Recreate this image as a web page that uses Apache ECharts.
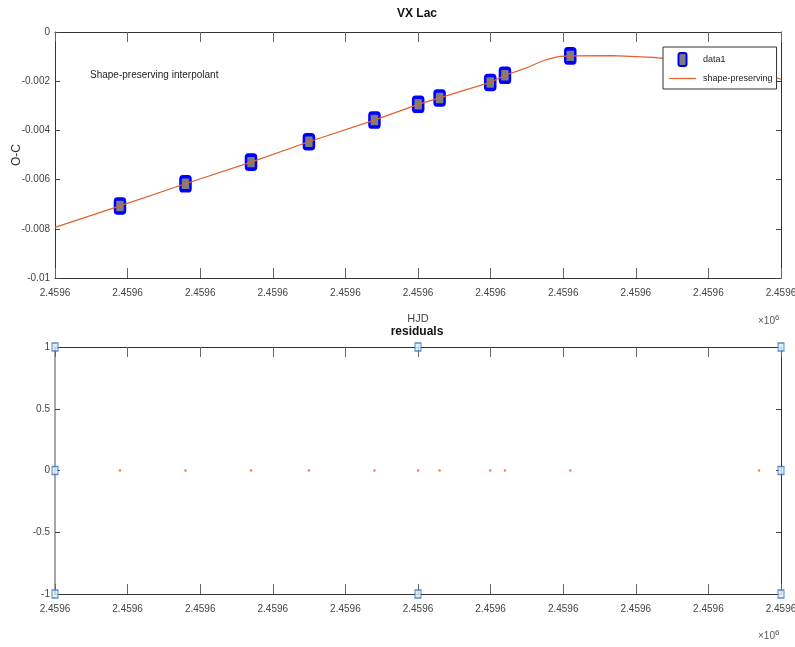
<!DOCTYPE html>
<html>
<head>
<meta charset="utf-8">
<script src="https://cdn.jsdelivr.net/npm/echarts@6/dist/echarts.min.js"></script>
<style>
  html, body { margin: 0; padding: 0; background: #fff; }
  #chart { width: 795px; height: 647px; }
</style>
</head>
<body>
<div id="chart"></div>
<script>
// HJD of the observed minima and their O-C values (days)
var hjd = [2459603.58, 2459607.19, 2459610.80, 2459613.99, 2459617.60, 2459620.01,
	2459621.19, 2459623.98, 2459624.79, 2459628.39, 2459638.79];
var oc = [-0.00707, -0.00617, -0.00529, -0.00446, -0.00358, -0.00294,
	-0.00268, -0.00205, -0.00176, -0.00097, -0.00163];

// shape-preserving interpolant
var fitX = [2459600, 2459603.58, 2459607.19, 2459610.80, 2459613.99, 2459617.60, 2459620.01,
	2459621.19, 2459623.98, 2459624.79, 2459625.50, 2459626.17, 2459626.65, 2459627.09,
	2459627.50, 2459627.82, 2459628.39, 2459630.74, 2459632.95, 2459633.50, 2459636.00,
	2459638.79, 2459639.56, 2459640];
var fitY = [-0.00794, -0.00707, -0.00617, -0.00529, -0.00446, -0.00358, -0.00294,
	-0.00268, -0.00205, -0.00176, -0.00158, -0.00140, -0.00124, -0.00112,
	-0.00104, -0.00099, -0.00097, -0.00096, -0.00103, -0.00107, -0.00130,
	-0.00163, -0.00182, -0.00192];

// residuals of the fit
var resid = [0, 0, 0, 0, 0, 0, 0, 0, 0, 0, 0];

// selection handles on the residual axes
var handleX = [2459600, 2459600, 2459600, 2459620, 2459620, 2459640, 2459640, 2459640];
var handleY = [1, 0, -1, 1, -1, 1, 0, -1];

var xMin = 2459600, xMax = 2459640, xStep = 4;

var FONT = "'Liberation Sans', Arial, sans-serif";
var markerPath = 'path://M2,0 H6 Q8,0 8,2 V11 Q8,13 6,13 H2 Q0,13 0,11 V2 Q0,0 2,0 Z';
var linePath = 'path://M0,0 H27 V1.2 H0 Z';

function zip(a, b) {
	return a.map(function (v, i) { return [v, b[i]]; });
}

function hjdLabel(v) {
	return (v / 1e6).toFixed(4);
}

function xAxisFor(grid, pos, showLabel) {
	return {
		type: 'value', gridIndex: grid, position: pos,
		min: xMin, max: xMax, interval: xStep,
		axisLine: { show: true, onZero: false, lineStyle: { color: '#333', width: 1 } },
		axisTick: { show: true, inside: true, length: 10, lineStyle: { color: '#666' } },
		axisLabel: {
			show: showLabel, formatter: hjdLabel, color: '#444',
			fontFamily: FONT, fontSize: 10, margin: 10
		},
		splitLine: { show: false }
	};
}

function yAxisFor(grid, pos, min, max, step, showLabel, fmt, lineColor, lineWidth) {
	return {
		type: 'value', gridIndex: grid, position: pos,
		min: min, max: max, interval: step,
		axisLine: { show: true, onZero: false, lineStyle: { color: lineColor || '#333', width: lineWidth || 1 } },
		axisTick: { show: true, inside: true, length: 5, lineStyle: { color: '#444' } },
		axisLabel: {
			show: showLabel, formatter: fmt, color: '#444',
			fontFamily: FONT, fontSize: 10, margin: 5
		},
		splitLine: { show: false }
	};
}

var chart = echarts.init(document.getElementById('chart'), null, { renderer: 'canvas' });

var topX = xAxisFor(0, 'bottom', true);
topX.name = 'HJD';
topX.nameLocation = 'middle';
topX.nameGap = 35;
topX.nameMoveOverlap = false;
topX.nameTextStyle = { fontFamily: FONT, fontSize: 11, color: '#444' };

var topY = yAxisFor(0, 'left', -0.01, 0, 0.002, true, function (v) {
	return v === 0 ? '0' : String(+v.toFixed(3));
});
topY.name = 'O-C';
topY.nameLocation = 'middle';
topY.nameGap = 32;
topY.nameRotate = 90;
topY.nameMoveOverlap = false;
topY.nameTextStyle = { fontFamily: FONT, fontSize: 12, color: '#333' };

var option = {
	animation: false,
	backgroundColor: '#fff',
	grid: [
		{ left: 55, top: 32, width: 726, height: 246, outerBoundsMode: 'none', containLabel: false },
		{ left: 55, top: 347, width: 726, height: 247, outerBoundsMode: 'none', containLabel: false }
	],
	xAxis: [
		topX,
		xAxisFor(0, 'top', false),
		xAxisFor(1, 'bottom', true),
		xAxisFor(1, 'top', false)
	],
	yAxis: [
		topY,
		yAxisFor(0, 'right', -0.01, 0, 0.002, false),
		yAxisFor(1, 'left', -1, 1, 0.5, true, null, '#a8a8a8', 2),
		yAxisFor(1, 'right', -1, 1, 0.5, false)
	],
	legend: {
		orient: 'vertical',
		left: 663, top: 47,
		padding: [5, 4, 6, 6],
		itemWidth: 27, itemHeight: 13, itemGap: 7,
		backgroundColor: '#fff',
		borderColor: '#333', borderWidth: 1, borderRadius: 0,
		textStyle: { fontFamily: FONT, fontSize: 9, color: '#222', padding: [0, 0, 0, 2] },
		data: [
			{ name: 'data1', icon: markerPath },
			{ name: 'shape-preserving', icon: linePath }
		]
	},
	graphic: [
		{
			type: 'text', x: 417, y: 8,
			style: { text: 'VX Lac', fontFamily: FONT, fontSize: 12, fontWeight: 'bold', fill: '#111', textAlign: 'center' }
		},
		{
			type: 'text', x: 90, y: 70,
			style: { text: 'Shape-preserving interpolant', fontFamily: FONT, fontSize: 10, fill: '#222' }
		},
		{
			type: 'text', x: 417, y: 326,
			style: { text: 'residuals', fontFamily: FONT, fontSize: 12, fontWeight: 'bold', fill: '#111', textAlign: 'center' }
		},
		{
			type: 'text', x: 758, y: 314,
			style: {
				text: '×10{s|6}', fontFamily: FONT, fontSize: 10, fill: '#555',
				rich: { s: { fontSize: 8, verticalAlign: 'top', padding: [0, 0, 6, 0], fill: '#555' } }
			}
		},
		{
			type: 'text', x: 758, y: 629,
			style: {
				text: '×10{s|6}', fontFamily: FONT, fontSize: 10, fill: '#555',
				rich: { s: { fontSize: 8, verticalAlign: 'top', padding: [0, 0, 6, 0], fill: '#555' } }
			}
		}
	],
	series: [
		{
			name: 'shape-preserving', type: 'line',
			xAxisIndex: 0, yAxisIndex: 0,
			data: zip(fitX, fitY),
			symbol: 'none', smooth: false,
			lineStyle: { color: '#e2622a', width: 1.2 },
			itemStyle: { color: '#e2622a' },
			z: 3
		},
		{
			name: 'data1', type: 'scatter',
			xAxisIndex: 0, yAxisIndex: 0,
			data: zip(hjd, oc),
			symbol: markerPath, symbolSize: [10, 14],
			itemStyle: { color: '#7d7d7d', borderColor: '#0000ff', borderWidth: 3, opacity: 1 },
			z: 2
		},
		{
			name: 'residuals', type: 'scatter',
			xAxisIndex: 2, yAxisIndex: 2,
			data: zip(hjd, resid),
			symbol: 'circle', symbolSize: 2.5,
			itemStyle: { color: '#e2622a' }
		},
		{
			name: 'handles', type: 'scatter',
			xAxisIndex: 2, yAxisIndex: 2,
			data: zip(handleX, handleY),
			symbol: 'rect', symbolSize: [6, 8],
			itemStyle: { color: '#dceaf7', borderColor: '#2f74c0', borderWidth: 1.2 },
			clip: false, z: 5
		}
	]
};

chart.setOption(option);
</script>
</body>
</html>
